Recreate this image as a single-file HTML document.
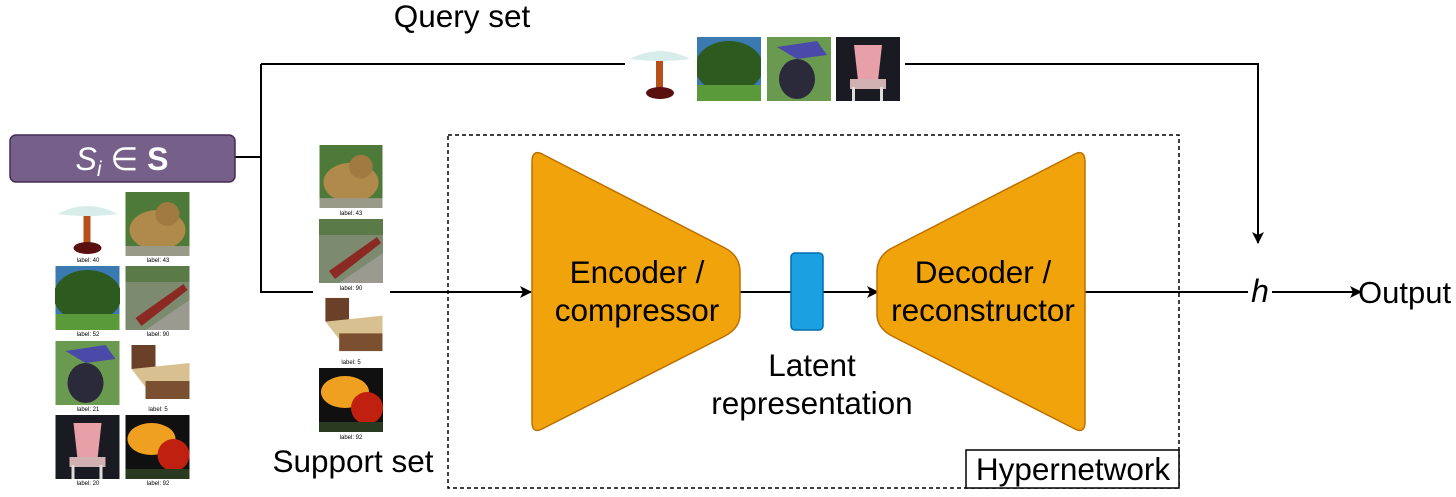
<!DOCTYPE html>
<html><head><meta charset="utf-8"><style>
html,body{margin:0;padding:0;background:#fff;}
svg{display:block;}
text{font-family:"Liberation Sans",sans-serif;}
</style></head><body>
<svg width="1456" height="497" viewBox="0 0 1456 497" xmlns="http://www.w3.org/2000/svg">
<defs>
<marker id="a" markerWidth="12" markerHeight="12" refX="11" refY="6" orient="auto" markerUnits="userSpaceOnUse">
<path d="M0,0 L12,6 L0,12 L3,6 z" fill="#000"/></marker>
<symbol id="lamp" viewBox="0 0 64 64"><rect width="64" height="64" fill="#fff"/><path d="M2,22 Q32,6 62,22 Q32,26 2,22z" fill="#d8ecea"/><rect x="28" y="24" width="7" height="30" fill="#b8501a"/><ellipse cx="32" cy="56" rx="14" ry="6" fill="#5a1010"/></symbol>
<symbol id="lion" viewBox="0 0 64 64"><rect width="64" height="64" fill="#4d7a38"/><ellipse cx="32" cy="38" rx="28" ry="20" fill="#b08a4a"/><circle cx="42" cy="22" r="12" fill="#a07a40"/><rect y="54" width="64" height="10" fill="#9a9a88"/></symbol>
<symbol id="tree" viewBox="0 0 64 64"><rect width="64" height="64" fill="#3a7ab0"/><ellipse cx="32" cy="30" rx="34" ry="26" fill="#2d5a1e"/><rect y="48" width="64" height="16" fill="#5a9a3a"/></symbol>
<symbol id="train" viewBox="0 0 64 64"><rect width="64" height="64" fill="#7c8a70"/><rect y="0" width="64" height="16" fill="#5a7a48"/><path d="M10,52 L58,18 L62,24 L16,60z" fill="#8a2a22"/><path d="M20,64 L64,34 L64,64z" fill="#9a9a90"/></symbol>
<symbol id="chimp" viewBox="0 0 64 64"><rect width="64" height="64" fill="#6a9a50"/><path d="M10,10 L50,4 L60,18 L30,22z" fill="#4a4aa8"/><ellipse cx="30" cy="42" rx="18" ry="20" fill="#2a2a3a"/></symbol>
<symbol id="bed" viewBox="0 0 64 64"><rect width="64" height="64" fill="#fff"/><rect x="6" y="4" width="24" height="24" fill="#6a4028"/><path d="M6,28 L64,22 L64,40 L20,46z" fill="#d8c090"/><rect x="20" y="40" width="44" height="18" fill="#7a5030"/></symbol>
<symbol id="chair" viewBox="0 0 64 64"><rect width="64" height="64" fill="#1a1a22"/><path d="M18,8 L46,8 L42,44 L22,44z" fill="#e8a0a8"/><rect x="14" y="42" width="36" height="10" fill="#d0b0b0"/><rect x="16" y="50" width="3" height="14" fill="#ddd"/><rect x="44" y="50" width="3" height="14" fill="#ddd"/></symbol>
<symbol id="flower" viewBox="0 0 64 64"><rect width="64" height="64" fill="#101010"/><ellipse cx="26" cy="24" rx="24" ry="16" fill="#f0a020"/><ellipse cx="48" cy="40" rx="16" ry="16" fill="#c02010"/><rect y="54" width="64" height="10" fill="#2a3a20"/></symbol>
</defs>

<g stroke="#000" stroke-width="2" fill="none">
<path d="M235,157 H261"/>
<path d="M261,64 V292 H313"/>
<path d="M261,64 H625"/>
<path d="M905,64 H1258 V243" marker-end="url(#a)"/>
<path d="M390,292 H531" marker-end="url(#a)"/>
<path d="M740,292 H791"/>
<path d="M823,292 H878" marker-end="url(#a)"/>
<path d="M1085,292 H1248"/>
<path d="M1272,292 H1361" marker-end="url(#a)"/>
</g>

<rect x="10" y="135" width="225" height="47" rx="6" fill="#76608a" stroke="#432d57" stroke-width="1.5"/>
<text x="122" y="170" text-anchor="middle" fill="#fff" font-family="'DejaVu Serif',serif" font-size="32"><tspan font-style="italic">S</tspan><tspan font-style="italic" font-size="21" dy="6">i</tspan><tspan dy="-6"> ∈ </tspan><tspan font-weight="bold">S</tspan></text>

<g font-size="6" text-anchor="middle" fill="#000">
<use href="#lamp" x="55" y="192" width="65" height="64"/><text x="88" y="262">label: 40</text>
<use href="#lion" x="125" y="192" width="65" height="64"/><text x="158" y="262">label: 43</text>
<use href="#tree" x="55" y="266" width="65" height="64"/><text x="88" y="336">label: 52</text>
<use href="#train" x="125" y="266" width="65" height="64"/><text x="158" y="336">label: 90</text>
<use href="#chimp" x="55" y="341" width="65" height="64"/><text x="88" y="411">label: 21</text>
<use href="#bed" x="125" y="341" width="65" height="64"/><text x="158" y="411">label: 5</text>
<use href="#chair" x="55" y="415" width="65" height="64"/><text x="88" y="485">label: 20</text>
<use href="#flower" x="125" y="415" width="65" height="64"/><text x="158" y="485">label: 92</text>
<use href="#lion" x="319" y="145" width="64" height="63"/><text x="351" y="215">label: 43</text>
<use href="#train" x="319" y="219" width="64" height="64"/><text x="351" y="290">label: 90</text>
<use href="#bed" x="319" y="294" width="64" height="63"/><text x="351" y="364">label: 5</text>
<use href="#flower" x="319" y="368" width="64" height="64"/><text x="351" y="439">label: 92</text>
</g>
<text x="353" y="472" text-anchor="middle" font-size="31.5">Support set</text>

<text x="462" y="27" text-anchor="middle" font-size="31.5">Query set</text>
<use href="#lamp" x="628" y="37" width="64" height="64"/>
<use href="#tree" x="697" y="37" width="64" height="64"/>
<use href="#chimp" x="767" y="37" width="64" height="64"/>
<use href="#chair" x="836" y="37" width="64" height="64"/>

<rect x="448" y="135" width="731" height="353" fill="none" stroke="#000" stroke-width="1.5" stroke-dasharray="4,3"/>
<rect x="966" y="450" width="213" height="38" fill="#fff" stroke="#000" stroke-width="1.5"/>
<text x="1073" y="480" text-anchor="middle" font-size="31.5">Hypernetwork</text>

<path d="M532,162 Q532,148 544,155 L725,248 Q740,256 740,272 L740,314 Q740,328 725,336 L544,428 Q532,435 532,422 Z" fill="#f0a30a" stroke="#bd7000" stroke-width="1.5"/>
<text x="637" y="283" text-anchor="middle" font-size="31.5">Encoder /</text>
<text x="637" y="321" text-anchor="middle" font-size="31.5">compressor</text>

<path d="M1085,162 Q1085,148 1073,155 L892,248 Q877,256 877,272 L877,314 Q877,328 892,336 L1073,428 Q1085,435 1085,422 Z" fill="#f0a30a" stroke="#bd7000" stroke-width="1.5"/>
<text x="983" y="283" text-anchor="middle" font-size="31.5">Decoder /</text>
<text x="983" y="321" text-anchor="middle" font-size="31.5">reconstructor</text>

<rect x="791" y="253" width="32" height="77" rx="4" fill="#1ba1e2" stroke="#006eaf" stroke-width="1.5"/>
<text x="812" y="376" text-anchor="middle" font-size="31.5">Latent</text>
<text x="812" y="414" text-anchor="middle" font-size="31.5">representation</text>

<text x="1260" y="302" text-anchor="middle" font-family="'DejaVu Serif',serif" font-style="italic" font-size="32">h</text>
<text x="1358" y="303" font-size="31">Output</text>
</svg>
</body></html>
